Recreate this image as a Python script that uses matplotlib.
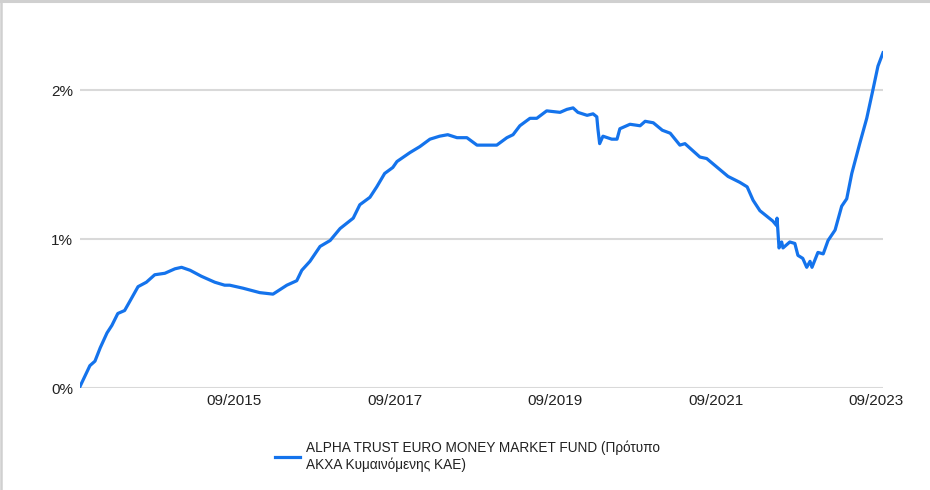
import matplotlib
matplotlib.use("Agg")
import matplotlib.pyplot as plt
from matplotlib.lines import Line2D
import pandas as pd

dates = [
    "2013-10-01", "2013-11-15", "2013-12-08", "2014-01-01", "2014-02-01", "2014-02-23",
    "2014-03-22", "2014-04-22", "2014-05-15", "2014-06-22", "2014-07-30", "2014-09-06",
    "2014-10-22", "2014-12-07", "2015-01-06", "2015-02-14", "2015-04-06", "2015-06-06",
    "2015-07-21", "2015-08-13", "2015-10-12", "2015-12-28", "2016-02-26", "2016-04-29",
    "2016-06-13", "2016-07-06", "2016-08-12", "2016-09-27", "2016-11-12", "2016-12-27",
    "2017-02-25", "2017-03-27", "2017-05-12", "2017-06-12", "2017-07-18", "2017-08-24",
    "2017-09-12", "2017-11-10", "2017-12-25", "2018-02-09", "2018-03-25", "2018-05-01",
    "2018-06-12", "2018-07-27", "2018-09-11", "2018-11-10", "2018-12-10", "2019-01-25",
    "2019-02-22", "2019-03-25", "2019-05-10", "2019-06-10", "2019-07-25", "2019-09-24",
    "2019-10-25", "2019-11-22", "2019-12-14", "2020-01-25", "2020-02-21", "2020-03-09",
    "2020-03-14", "2020-03-22", "2020-04-06", "2020-05-16", "2020-06-09", "2020-06-22",
    "2020-08-07", "2020-09-22", "2020-10-15", "2020-11-21", "2021-01-01", "2021-02-06",
    "2021-03-22", "2021-04-14", "2021-06-21", "2021-07-22", "2021-10-27", "2021-12-20",
    "2022-01-22", "2022-02-18", "2022-03-21", "2022-05-19", "2022-06-05", "2022-06-07",
    "2022-06-16", "2022-06-28", "2022-07-04", "2022-08-04", "2022-08-27", "2022-09-10",
    "2022-10-02", "2022-10-20", "2022-11-04", "2022-11-13", "2022-12-10", "2023-01-03",
    "2023-01-25", "2023-02-26", "2023-03-28", "2023-04-20", "2023-05-13", "2023-06-18",
    "2023-07-20", "2023-08-17", "2023-09-09", "2023-10-02",
]
returns_pct = [
    0.01, 0.15, 0.18, 0.27, 0.37, 0.42,
    0.50, 0.52, 0.58, 0.68, 0.71, 0.76,
    0.77, 0.80, 0.81, 0.79, 0.75, 0.71,
    0.69, 0.69, 0.67, 0.64, 0.63, 0.69,
    0.72, 0.79, 0.85, 0.95, 0.99, 1.07,
    1.14, 1.23, 1.28, 1.35, 1.44, 1.48,
    1.52, 1.58, 1.62, 1.67, 1.69, 1.70,
    1.68, 1.68, 1.63, 1.63, 1.63, 1.68,
    1.70, 1.76, 1.81, 1.81, 1.86, 1.85,
    1.87, 1.88, 1.85, 1.83, 1.84, 1.82,
    1.74, 1.64, 1.69, 1.67, 1.67, 1.74,
    1.77, 1.76, 1.79, 1.78, 1.73, 1.71,
    1.63, 1.64, 1.55, 1.54, 1.42, 1.38,
    1.35, 1.26, 1.19, 1.12, 1.09, 1.14,
    0.94, 0.98, 0.94, 0.98, 0.97, 0.89,
    0.87, 0.81, 0.85, 0.81, 0.91, 0.90,
    0.99, 1.06, 1.22, 1.27, 1.44, 1.64,
    1.81, 2.00, 2.16, 2.25,
]
x_ticks = ["2015-09-01", "2017-09-01", "2019-09-01", "2021-09-01", "2023-09-01"]
x_tick_labels = ["09/2015", "09/2017", "09/2019", "09/2021", "09/2023"]
y_ticks = [0, 1, 2]
y_tick_labels = ["0%", "1%", "2%"]
series_name = "ALPHA TRUST EURO MONEY MARKET FUND (Πρότυπο\nΑΚΧΑ Κυμαινόμενης ΚΑΕ)"

plt.rcParams['font.family'] = ['Liberation Sans', 'DejaVu Sans']
LINE = '#1473ec'
GRID = '#d9d9d9'

fig = plt.figure(figsize=(9.3, 4.9), dpi=100)
ax = fig.add_axes([80/930, (490-388)/490, (883-80)/930, (388-45)/490])

x = pd.to_datetime(dates)
ax.plot(x, returns_pct, color=LINE, lw=2.3, solid_joinstyle='round', zorder=3)

ax.set_xlim(pd.Timestamp("2013-10-01"), pd.Timestamp("2023-10-02"))
ax.set_ylim(0, (388-45)/149)
ax.set_yticks(y_ticks)
ax.set_yticklabels(y_tick_labels, fontsize=11, color='#222222')
ax.set_xticks(pd.to_datetime(x_ticks))
ax.set_xticklabels(x_tick_labels, fontsize=11, color='#222222')
ax.tick_params(axis='both', length=0)
ax.tick_params(axis='y', pad=5)
ax.tick_params(axis='x', pad=4)
for v in y_ticks:
    ax.axhline(v, color=GRID, lw=1.5, zorder=1)
for s in ax.spines.values():
    s.set_visible(False)

handle = Line2D([], [], color=LINE, lw=2.3)
leg = fig.legend([handle], [series_name], loc='center left',
                 bbox_to_anchor=(275/930, (490-456)/490), frameon=False,
                 fontsize=9.8, handlelength=1.85, handletextpad=0.4,
                 borderpad=0, borderaxespad=0, labelspacing=0,
                 labelcolor='#222222')

# outer frame (top and left)
fig.add_artist(Line2D([0, 1], [1 - 1.2/490, 1 - 1.2/490], transform=fig.transFigure, color='#d0d0d0', lw=2.2))
fig.add_artist(Line2D([1.2/930, 1.2/930], [0, 1], transform=fig.transFigure, color='#d0d0d0', lw=1.8))

fig.savefig("out.png", dpi=100)
